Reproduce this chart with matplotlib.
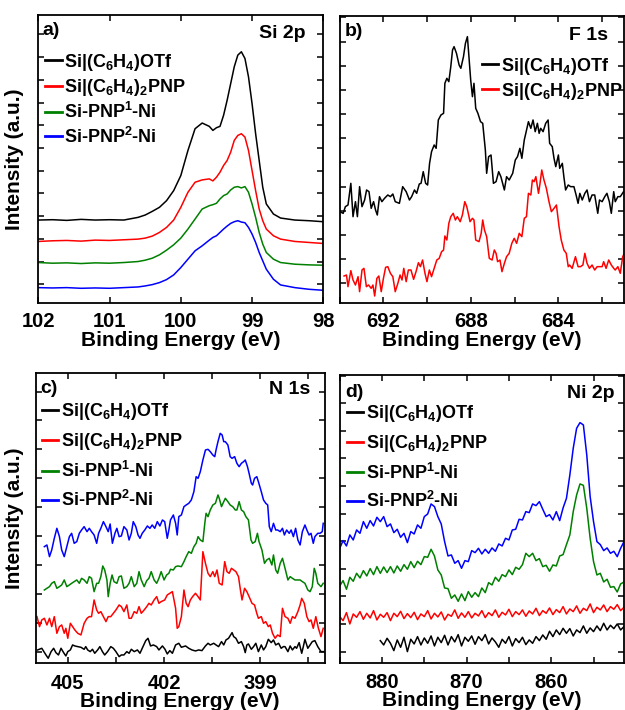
import matplotlib.pyplot as plt
from matplotlib.ticker import MultipleLocator

plt.rcParams['font.family'] = ['Liberation Sans', 'DejaVu Sans']
plt.rcParams['font.weight'] = 'bold'
plt.rcParams['axes.labelweight'] = 'bold'
plt.rcParams['mathtext.fontset'] = 'custom'
plt.rcParams['mathtext.bf'] = 'Liberation Sans:bold'
plt.rcParams['mathtext.rm'] = 'Liberation Sans:bold'
plt.rcParams['mathtext.default'] = 'bf'

labels = ['Si|(C$_6$H$_4$)OTf', 'Si|(C$_6$H$_4$)$_2$PNP',
          'Si-PNP$^1$-Ni', 'Si-PNP$^2$-Ni']
colors = ['black', 'red', 'green', 'blue']

# ---- a) Si 2p ----
si_ev = [102.0, 101.8, 101.6, 101.4, 101.2, 101.0, 100.8, 100.6, 100.5, 100.4,
         100.3, 100.2, 100.1, 100.0, 99.9, 99.8, 99.7, 99.6, 99.55, 99.5,
         99.45, 99.4, 99.35, 99.3, 99.25, 99.2, 99.15, 99.1, 99.05, 99.0,
         98.95, 98.9, 98.85, 98.8, 98.7, 98.6, 98.4, 98.2, 98.0]
si_black = [247, 248, 246, 249, 247, 248, 247, 255, 262, 273,
            285, 305, 335, 380, 455, 520, 537, 527, 515, 523,
            527, 560, 605, 655, 705, 740, 750, 730, 675, 595,
            505, 425, 345, 295, 265, 253, 247, 245, 242]
si_red = [183, 185, 186, 184, 187, 186, 188, 190, 193, 199,
          210, 225, 247, 285, 330, 360, 367, 370, 364, 375,
          390, 410, 425, 450, 485, 500, 505, 495, 455, 395,
          335, 280, 245, 220, 200, 190, 183, 180, 177]
si_green = [120, 118, 119, 117, 119, 118, 120, 123, 127, 133,
            143, 157, 173, 193, 220, 250, 280, 290, 293, 297,
            310, 320, 325, 337, 345, 347, 343, 347, 330, 295,
            255, 210, 175, 150, 130, 120, 115, 113, 112]
si_blue = [45, 44, 45, 43, 44, 43, 45, 47, 50, 54,
           60, 69, 83, 105, 130, 155, 170, 187, 195, 200,
           210, 220, 229, 237, 242, 245, 241, 239, 225, 205,
           180, 150, 125, 100, 70, 53, 45, 40, 37]

# ---- b) F 1s ----
f_black_ev = [693.99, 693.84, 693.74, 693.62, 693.49, 693.39, 693.28, 693.19, 693.09, 692.98,
              692.86, 692.77, 692.66, 692.56, 692.45, 692.36, 692.28, 692.18, 692.07, 691.95,
              691.80, 691.68, 691.57, 691.46, 691.27, 691.12, 690.96, 690.81, 690.71, 690.58,
              690.48, 690.36, 690.28, 690.18, 690.07, 689.98, 689.89, 689.80, 689.68, 689.59,
              689.49, 689.37, 689.25, 689.19, 689.10, 689.01, 688.92, 688.84, 688.77, 688.66,
              688.54, 688.46, 688.34, 688.25, 688.16, 688.09, 688.01, 687.93, 687.86, 687.78,
              687.68, 687.56, 687.46, 687.34, 687.28, 687.19, 687.08, 686.97, 686.85, 686.73,
              686.63, 686.47, 686.37, 686.25, 686.09, 685.97, 685.87, 685.76, 685.67, 685.56,
              685.49, 685.37, 685.26, 685.16, 685.06, 684.96, 684.88, 684.81, 684.70, 684.58,
              684.47, 684.40, 684.28, 684.20, 684.12, 684.00, 683.94, 683.82, 683.75, 683.67,
              683.55, 683.44, 683.29, 683.19, 683.10, 683.02, 682.91, 682.79, 682.69, 682.58,
              682.46, 682.34, 682.20, 682.12, 682.00, 681.88, 681.78, 681.67, 681.58, 681.47,
              681.40, 681.28, 681.17, 681.02]
f_black = [273, 268, 288, 293, 358, 258, 303, 258, 348, 288,
           308, 338, 333, 283, 303, 278, 263, 318, 303, 313,
           323, 318, 326, 303, 298, 348, 333, 308, 318, 338,
           328, 356, 358, 393, 358, 353, 418, 453, 473, 463,
           548, 563, 568, 658, 673, 663, 708, 758, 768, 748,
           713, 703, 738, 778, 798, 738, 668, 618, 658, 583,
           568, 543, 538, 458, 388, 438, 443, 358, 363, 393,
           378, 338, 378, 368, 388, 428, 438, 463, 433, 488,
           508, 543, 523, 548, 513, 538, 508, 523, 513, 538,
           548, 478, 468, 433, 408, 443, 403, 418, 378, 338,
           353, 348, 348, 323, 298, 328, 308, 328, 338, 303,
           323, 323, 268, 308, 303, 318, 328, 303, 268, 333,
           303, 318, 318, 333]
f_red_ev = [693.80, 693.69, 693.62, 693.49, 693.39, 693.28, 693.16, 693.09, 692.98, 692.89,
            692.78, 692.68, 692.56, 692.48, 692.40, 692.30, 692.21, 692.10, 692.00, 691.90,
            691.80, 691.68, 691.57, 691.46, 691.34, 691.24, 691.15, 691.07, 690.96, 690.86,
            690.74, 690.62, 690.51, 690.40, 690.31, 690.21, 690.10, 690.01, 689.90, 689.80,
            689.68, 689.56, 689.45, 689.34, 689.25, 689.19, 689.10, 689.01, 688.92, 688.81,
            688.71, 688.62, 688.49, 688.39, 688.28, 688.19, 688.12, 688.04, 687.93, 687.86,
            687.78, 687.63, 687.53, 687.46, 687.38, 687.28, 687.16, 687.03, 686.93, 686.85,
            686.78, 686.67, 686.58, 686.47, 686.37, 686.25, 686.13, 686.02, 685.91, 685.79,
            685.67, 685.56, 685.46, 685.37, 685.26, 685.19, 685.11, 685.03, 684.91, 684.85,
            684.76, 684.66, 684.55, 684.43, 684.32, 684.20, 684.09, 683.97, 683.87, 683.75,
            683.64, 683.55, 683.49, 683.37, 683.22, 683.10, 682.99, 682.88, 682.79, 682.69,
            682.58, 682.46, 682.34, 682.23, 682.12, 682.00, 681.93, 681.82, 681.70, 681.58,
            681.47, 681.40, 681.28, 681.17, 681.06, 681.02]
f_red = [80, 83, 48, 96, 68, 53, 78, 33, 98, 103,
         48, 53, 43, 53, 20, 73, 80, 33, 73, 106,
         108, 88, 78, 33, 58, 83, 68, 103, 63, 98,
         98, 70, 93, 120, 108, 128, 88, 63, 98, 78,
         103, 128, 133, 153, 158, 200, 188, 238, 258, 268,
         248, 258, 243, 263, 303, 288, 268, 243, 253, 248,
         188, 183, 208, 248, 218, 198, 133, 128, 158, 148,
         123, 128, 93, 118, 138, 148, 178, 193, 178, 208,
         198, 253, 258, 328, 323, 368, 363, 378, 328, 353,
         398, 368, 343, 303, 273, 283, 293, 228, 188, 158,
         148, 108, 113, 103, 138, 108, 108, 113, 148, 118,
         103, 113, 98, 108, 108, 108, 123, 103, 128, 113,
         103, 98, 108, 88, 138, 143]

# ---- c) N 1s ----
n_black_ev = [405.94, 405.81, 405.68, 405.61, 405.52, 405.44, 405.37, 405.29, 405.21, 405.13,
              405.06, 405.00, 404.92, 404.85, 404.78, 404.69, 404.59, 404.49, 404.44, 404.38,
              404.30, 404.23, 404.16, 404.07, 404.00, 403.92, 403.85, 403.76, 403.66, 403.58,
              403.50, 403.40, 403.33, 403.25, 403.16, 403.09, 403.02, 402.93, 402.83, 402.75,
              402.68, 402.57, 402.50, 402.42, 402.33, 402.23, 402.16, 402.05, 401.97, 401.90,
              401.82, 401.74, 401.64, 401.54, 401.46, 401.33, 401.23, 401.13, 401.02, 400.92,
              400.82, 400.71, 400.63, 400.56, 400.45, 400.38, 400.30, 400.21, 400.14, 400.07,
              399.99, 399.88, 399.83, 399.76, 399.68, 399.59, 399.52, 399.47, 399.42, 399.37,
              399.28, 399.21, 399.14, 399.06, 398.97, 398.90, 398.83, 398.75, 398.66, 398.59,
              398.52, 398.43, 398.35, 398.28, 398.23, 398.14, 398.07, 398.00, 397.92, 397.87,
              397.79, 397.71, 397.66, 397.61, 397.52, 397.45, 397.38, 397.30, 397.21, 397.11,
              397.04]
n_black = [40, 45, 25, 15, 35, 45, 32, 25, 45, 32,
           22, 35, 40, 55, 52, 50, 48, 42, 50, 40,
           35, 42, 30, 40, 50, 35, 25, 35, 50, 45,
           35, 20, 25, 25, 35, 30, 42, 35, 40, 30,
           45, 68, 75, 52, 55, 50, 40, 52, 42, 28,
           38, 30, 55, 60, 48, 52, 45, 40, 37, 40,
           38, 52, 60, 55, 60, 55, 50, 65, 55, 70,
           75, 92, 80, 75, 60, 65, 50, 32, 55, 58,
           42, 50, 60, 35, 55, 40, 50, 72, 62, 70,
           55, 60, 45, 50, 50, 35, 52, 40, 50, 45,
           62, 30, 50, 72, 45, 55, 65, 68, 50, 35,
           35]
n_red_ev = [405.96, 405.88, 405.81, 405.73, 405.65, 405.57, 405.50, 405.42, 405.34, 405.26,
            405.19, 405.11, 405.06, 405.00, 404.92, 404.85, 404.78, 404.69, 404.59, 404.49,
            404.40, 404.33, 404.26, 404.18, 404.10, 404.04, 403.97, 403.89, 403.81, 403.74,
            403.66, 403.58, 403.50, 403.40, 403.33, 403.25, 403.16, 403.09, 403.02, 402.93,
            402.85, 402.78, 402.71, 402.62, 402.54, 402.47, 402.40, 402.31, 402.23, 402.16,
            402.09, 401.98, 401.90, 401.82, 401.74, 401.64, 401.59, 401.54, 401.46, 401.38,
            401.31, 401.25, 401.18, 401.11, 401.02, 400.94, 400.87, 400.79, 400.71, 400.63,
            400.56, 400.48, 400.42, 400.35, 400.28, 400.19, 400.11, 400.04, 399.97, 399.90,
            399.83, 399.76, 399.68, 399.62, 399.57, 399.49, 399.42, 399.35, 399.26, 399.18,
            399.11, 399.06, 398.97, 398.90, 398.83, 398.75, 398.69, 398.62, 398.54, 398.46,
            398.38, 398.31, 398.23, 398.14, 398.07, 398.00, 397.92, 397.83, 397.76, 397.71,
            397.63, 397.55, 397.48, 397.42, 397.35, 397.27, 397.19, 397.11, 397.04]
n_red = [140, 110, 130, 135, 115, 135, 110, 140, 90, 110,
         115, 90, 105, 75, 120, 110, 100, 90, 85, 120,
         135, 140, 140, 190, 160, 150, 155, 140, 125, 140,
         140, 150, 160, 175, 170, 155, 175, 135, 135, 155,
         150, 170, 150, 160, 170, 180, 175, 190, 200, 180,
         185, 190, 205, 210, 215, 165, 105, 110, 140, 220,
         180, 170, 190, 200, 210, 200, 190, 335, 300, 270,
         260, 275, 260, 280, 240, 235, 305, 275, 270, 285,
         280, 275, 260, 220, 190, 225, 215, 200, 180, 175,
         150, 135, 140, 120, 125, 110, 115, 90, 75, 85,
         80, 165, 140, 135, 120, 140, 135, 155, 175, 195,
         180, 140, 125, 130, 105, 140, 105, 80, 105]
n_green_ev = [405.73, 405.65, 405.57, 405.50, 405.42, 405.34, 405.26, 405.19, 405.11, 405.03,
              404.95, 404.88, 404.80, 404.72, 404.64, 404.57, 404.49, 404.40, 404.33, 404.26,
              404.18, 404.10, 404.04, 403.97, 403.91, 403.85, 403.78, 403.74, 403.68, 403.62,
              403.56, 403.47, 403.40, 403.33, 403.25, 403.16, 403.09, 403.02, 402.93, 402.85,
              402.78, 402.71, 402.62, 402.54, 402.47, 402.40, 402.31, 402.23, 402.16, 402.09,
              402.00, 401.92, 401.85, 401.80, 401.71, 401.64, 401.57, 401.46, 401.38, 401.31,
              401.23, 401.15, 401.07, 401.00, 400.94, 400.87, 400.79, 400.73, 400.69, 400.63,
              400.56, 400.48, 400.40, 400.32, 400.28, 400.21, 400.14, 400.09, 400.01, 399.94,
              399.86, 399.78, 399.73, 399.66, 399.59, 399.52, 399.45, 399.37, 399.29, 399.24,
              399.16, 399.09, 399.04, 398.95, 398.87, 398.80, 398.72, 398.64, 398.59, 398.52,
              398.46, 398.38, 398.31, 398.23, 398.14, 398.07, 398.00, 397.92, 397.83, 397.76,
              397.69, 397.61, 397.52, 397.45, 397.38, 397.32, 397.27, 397.21, 397.11, 397.04]
n_green = [220, 225, 230, 240, 245, 225, 230, 235, 250, 230,
           235, 240, 245, 250, 240, 255, 250, 240, 260, 255,
           215, 240, 240, 260, 292, 280, 250, 200, 240, 265,
           245, 240, 260, 262, 225, 230, 240, 260, 230, 240,
           275, 250, 230, 248, 255, 275, 250, 240, 255, 275,
           250, 265, 270, 282, 280, 290, 292, 290, 305, 320,
           335, 330, 350, 360, 380, 370, 365, 420, 450, 440,
           460, 475, 480, 505, 495, 470, 485, 495, 485, 475,
           470, 460, 460, 485, 460, 455, 440, 430, 370, 360,
           365, 390, 365, 340, 300, 310, 315, 295, 325, 280,
           270, 300, 315, 285, 250, 260, 255, 250, 250, 250,
           245, 240, 220, 215, 230, 285, 270, 240, 230, 240]
n_blue_ev = [405.73, 405.65, 405.57, 405.50, 405.42, 405.34, 405.26, 405.19, 405.11, 405.03,
             404.95, 404.88, 404.80, 404.72, 404.64, 404.57, 404.49, 404.40, 404.33, 404.26,
             404.18, 404.10, 404.04, 403.97, 403.89, 403.81, 403.74, 403.68, 403.61, 403.53,
             403.47, 403.40, 403.33, 403.25, 403.16, 403.09, 403.02, 402.96, 402.88, 402.81,
             402.75, 402.68, 402.60, 402.52, 402.44, 402.37, 402.29, 402.21, 402.13, 402.05,
             401.98, 401.90, 401.85, 401.80, 401.71, 401.64, 401.59, 401.54, 401.46, 401.38,
             401.31, 401.23, 401.15, 401.07, 401.00, 400.94, 400.87, 400.79, 400.71, 400.63,
             400.56, 400.48, 400.42, 400.38, 400.32, 400.25, 400.19, 400.14, 400.09, 400.01,
             399.94, 399.88, 399.80, 399.73, 399.66, 399.59, 399.52, 399.47, 399.40, 399.35,
             399.28, 399.24, 399.18, 399.11, 399.06, 398.97, 398.90, 398.83, 398.77, 398.72,
             398.66, 398.59, 398.52, 398.46, 398.38, 398.31, 398.25, 398.18, 398.10, 398.04,
             397.97, 397.90, 397.83, 397.76, 397.69, 397.61, 397.55, 397.48, 397.42, 397.35,
             397.30, 397.21, 397.14, 397.07, 397.04]
n_blue = [350, 355, 320, 340, 375, 405, 380, 340, 320, 350,
          380, 390, 360, 365, 390, 400, 410, 395, 405, 395,
          385, 360, 390, 405, 425, 410, 395, 418, 360, 390,
          405, 380, 382, 410, 400, 370, 390, 425, 410, 385,
          375, 390, 400, 412, 405, 415, 405, 425, 412, 430,
          425, 375, 400, 430, 445, 420, 385, 440, 445, 470,
          475, 480, 490, 515, 560, 555, 575, 610, 640, 642,
          635, 625, 620, 640, 665, 690, 685, 665, 665, 655,
          620, 615, 620, 600, 590, 600, 605, 610, 590, 570,
          540, 535, 555, 560, 545, 515, 490, 480, 475, 410,
          395, 420, 400, 400, 395, 405, 385, 400, 390, 400,
          380, 405, 370, 355, 395, 415, 400, 385, 390, 360,
          380, 390, 390, 395, 420]

# ---- d) Ni 2p ----
ni_ev = [885.0, 884.6, 884.2, 883.8, 883.4, 883.0, 882.6, 882.2, 881.8, 881.4,
         881.0, 880.6, 880.2, 879.8, 879.4, 879.0, 878.6, 878.2, 877.8, 877.4,
         877.0, 876.6, 876.2, 875.8, 875.4, 875.0, 874.6, 874.2, 873.8, 873.4,
         873.0, 872.6, 872.2, 871.8, 871.4, 871.0, 870.6, 870.2, 869.8, 869.4,
         869.0, 868.6, 868.2, 867.8, 867.4, 867.0, 866.6, 866.2, 865.8, 865.4,
         865.0, 864.6, 864.2, 863.8, 863.4, 863.0, 862.6, 862.2, 861.8, 861.4,
         861.0, 860.6, 860.2, 859.8, 859.4, 859.0, 858.6, 858.2, 857.8, 857.4,
         857.0, 856.6, 856.2, 855.8, 855.4, 855.0, 854.6, 854.2, 853.8, 853.4,
         853.0, 852.6, 852.2, 851.8, 851.4]
ni_black = [68, 55, 75, 60, 38, 70, 48, 78, 35, 72,
            58, 80, 55, 76, 60, 82, 52, 78, 62, 84,
            55, 80, 64, 86, 52, 78, 66, 82, 57, 80,
            68, 86, 58, 76, 64, 48, 72, 60, 80, 52,
            74, 62, 78, 56, 70, 60, 80, 68, 85, 72,
            96, 80, 100, 86, 105, 90, 104, 82, 100, 92,
            112, 90, 106, 95, 112, 98, 120, 100, 114, 104,
            118, 100, 110]
ni_red = [140, 128, 152, 118, 148, 138, 155, 132, 150, 136,
          158, 130, 147, 138, 152, 128, 150, 140, 156, 134,
          149, 137, 153, 131, 148, 140, 158, 133, 150, 139,
          154, 130, 147, 141, 160, 135, 151, 138, 155, 136,
          150, 142, 158, 137, 152, 143, 160, 138, 153, 145,
          162, 140, 155, 146, 160, 141, 157, 148, 165, 143,
          158, 150, 166, 146, 161, 152, 170, 148, 163, 155,
          172, 150, 165, 158, 178, 152, 168, 160, 175, 155,
          170, 162, 176, 158, 168]
ni_green = [232, 248, 222, 258, 246, 270, 256, 278, 262, 284,
            266, 290, 270, 289, 272, 290, 271, 292, 276, 296,
            282, 305, 287, 306, 296, 320, 318, 342, 322, 280,
            265, 226, 224, 195, 205, 186, 208, 188, 215, 198,
            212, 200, 226, 212, 242, 235, 258, 246, 266, 260,
            280, 266, 288, 282, 296, 330, 320, 330, 308, 314,
            290, 294, 276, 295, 292, 322, 326, 356, 385, 455,
            505, 538, 534, 465, 375, 305, 265, 270, 244, 252,
            228, 230, 214, 238, 244]
ni_blue = [345, 368, 352, 385, 370, 400, 390, 425, 405, 428,
           412, 438, 425, 440, 410, 418, 392, 402, 378, 390,
           362, 395, 388, 415, 405, 440, 448, 478, 470, 440,
           418, 365, 322, 325, 300, 308, 285, 308, 305, 338,
           332, 345, 328, 342, 330, 346, 336, 358, 352, 375,
           370, 400, 402, 432, 430, 455, 452, 478, 473, 485,
           462, 440, 446, 430, 455, 428, 466, 495, 565, 645,
           705, 722, 715, 625, 500, 425, 365, 356, 338, 346,
           330, 336, 320, 345, 365]

fig = plt.figure(figsize=(6.25, 7.10), dpi=100)
ax_a = fig.add_axes([0.0613, 0.5737, 0.4560, 0.4052])
ax_b = fig.add_axes([0.5435, 0.5737, 0.4549, 0.4038])
ax_c = fig.add_axes([0.0571, 0.0658, 0.4621, 0.4093])
ax_d = fig.add_axes([0.5435, 0.0658, 0.4549, 0.4061])


def style(ax, xlim, ylim, major, minor, ytick0, ystep, pad, labelpad=0):
    ax.set_xlim(*xlim)
    ax.set_ylim(*ylim)
    ax.xaxis.set_major_locator(MultipleLocator(major))
    if minor:
        ax.xaxis.set_minor_locator(MultipleLocator(minor))
    yt = []
    v = ytick0
    while v < ylim[1]:
        yt.append(v)
        v += ystep
    ax.set_yticks(yt)
    ax.set_yticklabels([])
    ax.tick_params(which='major', direction='in', top=True, right=True,
                   length=4, width=1.1, labelsize=14.5, pad=pad)
    ax.tick_params(which='minor', direction='in', top=True, right=True,
                   length=4, width=1.1)
    for s in ax.spines.values():
        s.set_linewidth(1.3)
    ax.set_xlabel('Binding Energy (eV)', fontsize=15, labelpad=labelpad)


def add_legend(ax, lines, labs, x, y, spacing):
    leg = ax.legend(lines, labs, loc='upper left', bbox_to_anchor=(x, y),
                    frameon=False, handlelength=0.9, handletextpad=0.15,
                    labelspacing=spacing, borderpad=0, borderaxespad=0,
                    prop={'weight': 'bold', 'size': 13})
    for h in leg.get_lines():
        h.set_linewidth(2.0)


lw = 1.1

# a)
la = []
for ys, c in zip([si_black, si_red, si_green, si_blue], colors):
    la += ax_a.plot(si_ev, ys, color=c, lw=lw)
style(ax_a, (102, 98), (0, 860), 1, None, 55, 67.9, 7)
ax_a.set_ylabel('Intensity (a.u.)', fontsize=15)
ax_a.yaxis.set_label_coords(-0.05, 0.5)
add_legend(ax_a, la, labels, 0.025, 0.873, 0.24)
ax_a.text(0.013, 0.975, 'a)', transform=ax_a.transAxes, fontsize=14,
          fontweight='bold', va='top', ha='left')
ax_a.text(0.936, 0.965, 'Si 2p', transform=ax_a.transAxes, fontsize=14,
          fontweight='bold', va='top', ha='right')

# b)
lb = []
lb += ax_b.plot(f_black_ev, f_black, color='black', lw=lw)
lb += ax_b.plot(f_red_ev, f_red, color='red', lw=lw)
style(ax_b, (694, 681), (0, 860), 4, 2, 58, 72.5, 7)
add_legend(ax_b, lb, labels[:2], 0.5, 0.862, 0.22)
ax_b.text(0.019, 0.975, 'b)', transform=ax_b.transAxes, fontsize=14,
          fontweight='bold', va='top', ha='left')
ax_b.text(0.944, 0.962, 'F 1s', transform=ax_b.transAxes, fontsize=14,
          fontweight='bold', va='top', ha='right')

# c)
lc = []
for xs, ys, c in zip([n_black_ev, n_red_ev, n_green_ev, n_blue_ev],
                     [n_black, n_red, n_green, n_blue], colors):
    lc += ax_c.plot(xs, ys, color=c, lw=lw)
style(ax_c, (406, 397), (0, 872), 3, 1.5, 35, 86.7, 8, -1)
ax_c.set_ylabel('Intensity (a.u.)', fontsize=15)
ax_c.yaxis.set_label_coords(-0.04, 0.5)
add_legend(ax_c, lc, labels, 0.022, 0.902, 0.5)
ax_c.text(0.015, 0.975, 'c)', transform=ax_c.transAxes, fontsize=14,
          fontweight='bold', va='top', ha='left')
ax_c.text(0.95, 0.97, 'N 1s', transform=ax_c.transAxes, fontsize=14,
          fontweight='bold', va='top', ha='right')

# d)
ld = []
ld += ax_d.plot(ni_ev[12:], ni_black, color='black', lw=lw)
ld += ax_d.plot(ni_ev, ni_red, color='red', lw=lw)
ld += ax_d.plot(ni_ev, ni_green, color='green', lw=lw)
ld += ax_d.plot(ni_ev, ni_blue, color='blue', lw=lw)
style(ax_d, (885, 851.4), (0, 865), 10, 5, 35, 82.8, 7, -1)
add_legend(ax_d, ld, labels, 0.026, 0.902, 0.48)
ax_d.text(0.019, 0.97, 'd)', transform=ax_d.transAxes, fontsize=14,
          fontweight='bold', va='top', ha='left')
ax_d.text(0.968, 0.965, 'Ni 2p', transform=ax_d.transAxes, fontsize=14,
          fontweight='bold', va='top', ha='right')

fig.savefig('out.png', dpi=100)
